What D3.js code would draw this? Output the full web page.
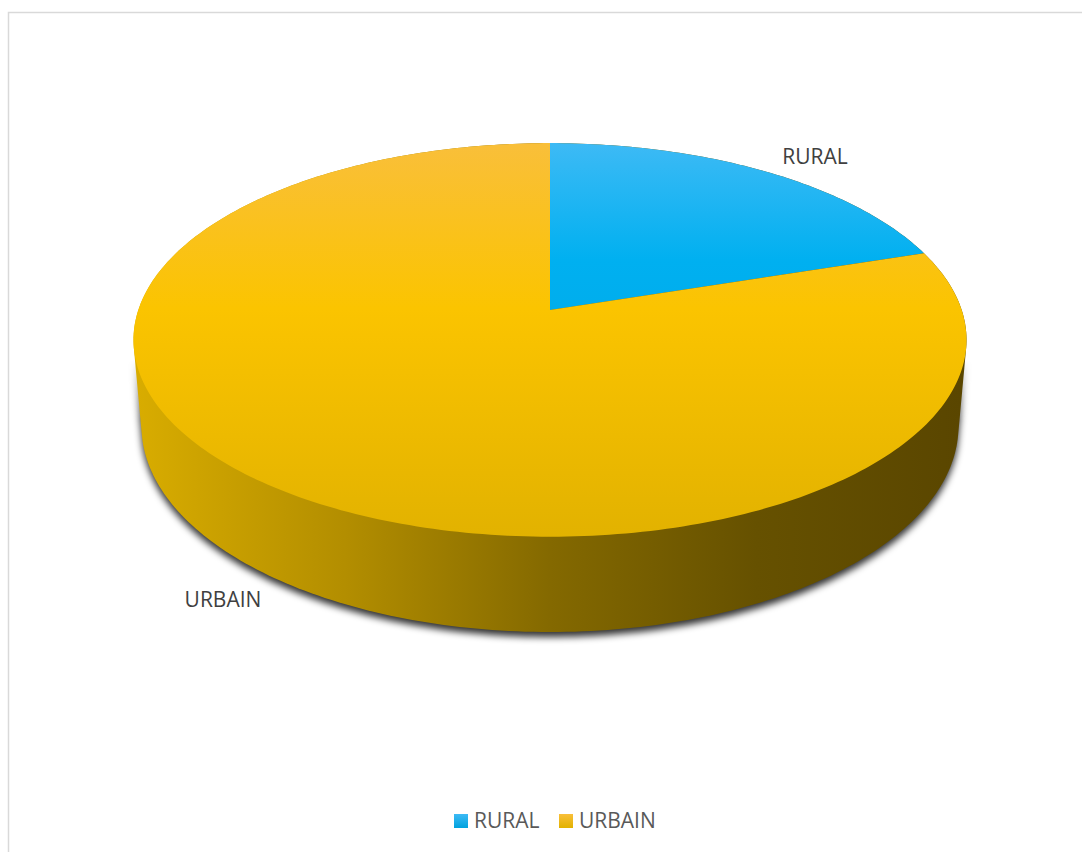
<!DOCTYPE html>
<html>
<head>
<meta charset="utf-8">
<script src="https://cdn.jsdelivr.net/npm/d3@7"></script>
<style>
  html, body { margin: 0; padding: 0; background: #fff; }
  svg { display: block; }
  text { font-family: "Open Sans", "Noto Sans", sans-serif; }
</style>
</head>
<body>
<svg id="chart" width="1082" height="852"></svg>
<script>
// Population split by area type
const categories = ["RURAL", "URBAIN"];
const values = [20, 80];
const topColors = [["#3DBAF5", "#00B0F0", "#00A2DE"], ["#F9BF3A", "#FBC400", "#E2B200"]];
const topStops = [[0, 30, 100], [0, 42, 100]];
const legendLabels = ["RURAL", "URBAIN"];

const W = 1082, H = 852;
const svg = d3.select("#chart");
const defs = svg.append("defs");

// Perspective camera looking down on a disc of radius 1 lying in the y=0 plane
const cam = { cx: 550, cy: 310, f: 2396, D: 5.82, tilt: Math.asin(0.467), depth: 0.239 };
const sinA = Math.sin(cam.tilt), cosA = Math.cos(cam.tilt);
function project(x, y, z) {
  const d = cam.D + z * cosA - y * sinA;
  return [cam.cx + cam.f * x / d, cam.cy - cam.f * (z * sinA + y * cosA) / d];
}
// angle measured clockwise from the far side of the disc
const rim = (a, y) => project(Math.sin(a), y, Math.cos(a));

const pie = d3.pie().sort(null).value(d => d).startAngle(0).endAngle(2 * Math.PI);
const arcs = pie(values);

// gradients
const topY0 = rim(0, 0)[1], topY1 = rim(Math.PI, 0)[1];
topColors.forEach((c, i) => {
  const g = defs.append("linearGradient").attr("id", "top" + i)
    .attr("gradientUnits", "userSpaceOnUse")
    .attr("x1", 0).attr("x2", 0).attr("y1", topY0).attr("y2", topY1);
  c.forEach((col, k) => g.append("stop").attr("offset", topStops[i][k] + "%").attr("stop-color", col));
});
const sideG = defs.append("linearGradient").attr("id", "side")
  .attr("gradientUnits", "userSpaceOnUse")
  .attr("x1", rim(-Math.PI / 2, 0)[0]).attr("x2", rim(Math.PI / 2, 0)[0])
  .attr("y1", 0).attr("y2", 0);
[["0%", "#D8AC00"], ["25%", "#B38E00"], ["50%", "#846900"], ["75%", "#665100"], ["100%", "#5A4600"]]
  .forEach(s => sideG.append("stop").attr("offset", s[0]).attr("stop-color", s[1]));

topColors.forEach((c, i) => {
  const g = defs.append("linearGradient").attr("id", "leg" + i)
    .attr("x1", 0).attr("x2", 0).attr("y1", 0).attr("y2", 1);
  g.append("stop").attr("offset", "0%").attr("stop-color", c[0]);
  g.append("stop").attr("offset", "100%").attr("stop-color", c[2]);
});

const blur = defs.append("filter").attr("id", "shadow")
  .attr("x", "-10%").attr("y", "-10%").attr("width", "120%").attr("height", "130%");
blur.append("feGaussianBlur").attr("stdDeviation", 3.5);

const mask = defs.append("mask").attr("id", "shadowMask").attr("maskUnits", "userSpaceOnUse")
  .attr("x", 0).attr("y", 0).attr("width", W).attr("height", H);
const mg = defs.append("linearGradient").attr("id", "maskGrad")
  .attr("gradientUnits", "userSpaceOnUse").attr("x1", 0).attr("x2", 0).attr("y1", 360).attr("y2", 420);
mg.append("stop").attr("offset", "0%").attr("stop-color", "#000");
mg.append("stop").attr("offset", "100%").attr("stop-color", "#fff");
mask.append("rect").attr("width", W).attr("height", H).attr("fill", "url(#maskGrad)");

// chart frame
svg.append("rect").attr("x", 8.5).attr("y", 12.5).attr("width", W + 20).attr("height", H + 20)
  .attr("fill", "#fff").attr("stroke", "#D9D9D9").attr("stroke-width", 1.5);

// outline of the whole solid: hull of top and bottom rims
const N = 360;
const ringPts = [];
for (let i = 0; i < N; i++) {
  const a = i / N * 2 * Math.PI;
  ringPts.push(rim(a, 0), rim(a, -cam.depth));
}
const hull = d3.polygonHull(ringPts);
const line = d3.line().curve(d3.curveLinearClosed);

// drop shadow
svg.append("path").attr("d", line(hull.map(p => [p[0], p[1] + 5])))
  .attr("fill", "#000").attr("fill-opacity", 0.8)
  .attr("filter", "url(#shadow)").attr("mask", "url(#shadowMask)");

// side wall
svg.append("path").attr("d", line(hull)).attr("fill", "url(#side)");

// top faces
function slicePath(d) {
  const pts = [project(0, 0, 0)];
  const steps = Math.max(8, Math.ceil((d.endAngle - d.startAngle) / (Math.PI / 180)));
  for (let i = 0; i <= steps; i++) {
    pts.push(rim(d.startAngle + (d.endAngle - d.startAngle) * i / steps, 0));
  }
  return line(pts);
}
svg.selectAll("path.slice").data(arcs).enter().append("path")
  .attr("class", "slice")
  .attr("d", slicePath)
  .attr("fill", (d, i) => `url(#top${i})`);

// category labels
const labelPos = [[815, 164], [223, 607]];
svg.selectAll("text.cat").data(categories).enter().append("text")
  .attr("class", "cat")
  .attr("x", (d, i) => labelPos[i][0]).attr("y", (d, i) => labelPos[i][1])
  .attr("text-anchor", "middle")
  .attr("font-size", 21).attr("fill", "#404040")
  .text(d => d);

// legend
const legend = svg.append("g").attr("transform", "translate(454,814)");
const legX = [0, 105];
legendLabels.forEach((t, i) => {
  const g = legend.append("g").attr("transform", `translate(${legX[i]},0)`);
  g.append("rect").attr("width", 14).attr("height", 14).attr("fill", `url(#leg${i})`);
  g.append("text").attr("x", 20).attr("y", 14).attr("font-size", 21).attr("fill", "#595959").text(t);
});
</script>
</body>
</html>
